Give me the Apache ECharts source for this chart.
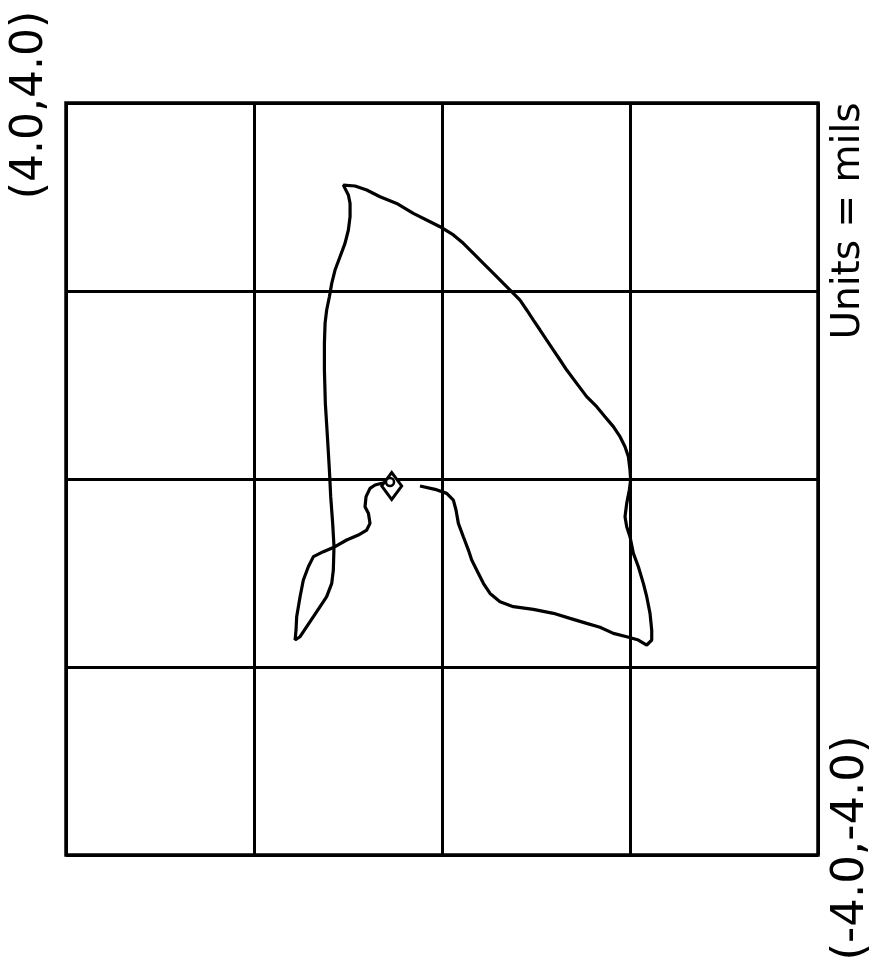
<!DOCTYPE html>
<html>
<head>
<meta charset="utf-8">
<script src="https://cdn.jsdelivr.net/npm/echarts@6/dist/echarts.min.js"></script>
<style>
  html, body { margin: 0; padding: 0; background: #fff; }
  #chart { width: 878px; height: 969px; }
</style>
</head>
<body>
<div id="chart"></div>
<script>
// Orbit trace (mils), in drawing order
const orbitX = [
  -0.234, -0.074, 0.050, 0.121, 0.149, 0.174, 0.227, 0.281, 0.316, 0.369,
  0.440, 0.511, 0.617, 0.759, 0.972, 1.185, 1.362, 1.539, 1.681, 1.823,
  1.965, 2.089, 2.178, 2.231, 2.231, 2.213, 2.178, 2.142, 2.089, 2.036,
  2.000, 1.965, 1.947, 1.965, 1.993, 2.007, 2.000, 1.983, 1.947, 1.894,
  1.823, 1.734, 1.646, 1.539, 1.433, 1.327, 1.256, 1.185, 1.114, 1.043,
  0.972, 0.901, 0.830, 0.759, 0.653, 0.547, 0.440, 0.334, 0.227, 0.121,
  -0.021, -0.127, -0.305, -0.482, -0.659, -0.801, -0.925, -1.049, -1.032, -0.996,
  -0.978, -0.978, -0.996, -1.032, -1.085, -1.138, -1.173, -1.198, -1.227, -1.244,
  -1.251, -1.251, -1.241, -1.219, -1.198, -1.184, -1.163, -1.149, -1.156, -1.173,
  -1.227, -1.297, -1.368, -1.439, -1.510, -1.563, -1.553, -1.546, -1.510, -1.475,
  -1.422, -1.368, -1.262, -1.138, -1.014, -0.890, -0.801, -0.766, -0.783, -0.819,
  -0.808, -0.766, -0.712, -0.641, -0.588
];
const orbitY = [
  -0.075, -0.110, -0.153, -0.224, -0.330, -0.472, -0.614, -0.756, -0.862, -0.968,
  -1.110, -1.217, -1.305, -1.358, -1.387, -1.429, -1.483, -1.536, -1.578, -1.642,
  -1.678, -1.713, -1.766, -1.713, -1.607, -1.429, -1.252, -1.110, -0.933, -0.791,
  -0.614, -0.507, -0.401, -0.259, -0.117, -0.011, 0.096, 0.237, 0.344, 0.450,
  0.557, 0.663, 0.769, 0.876, 1.017, 1.159, 1.266, 1.372, 1.478, 1.585,
  1.691, 1.798, 1.904, 1.975, 2.081, 2.188, 2.294, 2.400, 2.507, 2.596,
  2.684, 2.737, 2.826, 2.932, 3.003, 3.074, 3.117, 3.127, 3.092, 3.021,
  2.932, 2.791, 2.649, 2.507, 2.365, 2.223, 2.081, 1.939, 1.798, 1.656,
  1.443, 1.159, 0.805, 0.450, 0.096, -0.188, -0.472, -0.720, -0.968, -1.110,
  -1.252, -1.358, -1.465, -1.571, -1.678, -1.713, -1.607, -1.465, -1.252, -1.075,
  -0.933, -0.826, -0.773, -0.720, -0.649, -0.596, -0.543, -0.472, -0.365, -0.295,
  -0.188, -0.100, -0.064, -0.046, -0.039
];
// Keyphasor marker position
const markerX = [-0.535];
const markerY = [-0.075];
const dotX = [-0.553];
const dotY = [-0.032];

// Axis range and grid spacing (mils)
const axisMin = -4;
const axisMax = 4;
const axisStep = 2;

const labelTopLeft = '(4.0,4.0)';
const labelBottomRight = '(-4.0,-4.0)';
const labelUnits = 'Units = mils';

const orbit = orbitX.map((x, i) => [x, orbitY[i]]);
const marker = markerX.map((x, i) => [x, markerY[i]]);
const dot = dotX.map((x, i) => [x, dotY[i]]);

const chart = echarts.init(document.getElementById('chart'));
const axisCommon = {
  type: 'value',
  min: axisMin,
  max: axisMax,
  interval: axisStep,
  axisLabel: { show: false },
  axisTick: { show: false },
  axisLine: { show: false },
  splitLine: { show: true, lineStyle: { color: '#000', width: 3 } }
};
const textFont = 'DejaVu Sans';

chart.setOption({
  backgroundColor: '#fff',
  animation: false,
  grid: {
    left: 66, top: 103, width: 752, height: 752,
    show: true, borderColor: '#000', borderWidth: 3.5, backgroundColor: 'transparent'
  },
  xAxis: Object.assign({}, axisCommon),
  yAxis: Object.assign({}, axisCommon),
  graphic: [
    {
      type: 'text', x: 31, y: 105, rotation: Math.PI / 2,
      style: { text: labelTopLeft, font: '44px "' + textFont + '"', fill: '#000', align: 'center', verticalAlign: 'middle' }
    },
    {
      type: 'text', x: 849, y: 221, rotation: Math.PI / 2,
      style: { text: labelUnits, font: '39px "' + textFont + '"', fill: '#000', align: 'center', verticalAlign: 'middle' }
    },
    {
      type: 'text', x: 851, y: 848, rotation: Math.PI / 2,
      style: { text: labelBottomRight, font: '45px "' + textFont + '"', fill: '#000', align: 'center', verticalAlign: 'middle' }
    }
  ],
  series: [
    {
      type: 'line',
      data: orbit,
      showSymbol: false,
      smooth: false,
      lineStyle: { color: '#000', width: 3.2 },
      z: 3
    },
    {
      type: 'scatter',
      data: marker,
      symbol: 'diamond',
      symbolSize: [20, 27],
      itemStyle: { color: '#fff', borderColor: '#000', borderWidth: 3, opacity: 1 },
      z: 4
    },
    {
      type: 'scatter',
      data: dot,
      symbol: 'circle',
      symbolSize: 8,
      itemStyle: { color: '#fff', borderColor: '#000', borderWidth: 2.5, opacity: 1 },
      z: 5
    }
  ]
});
</script>
</body>
</html>
